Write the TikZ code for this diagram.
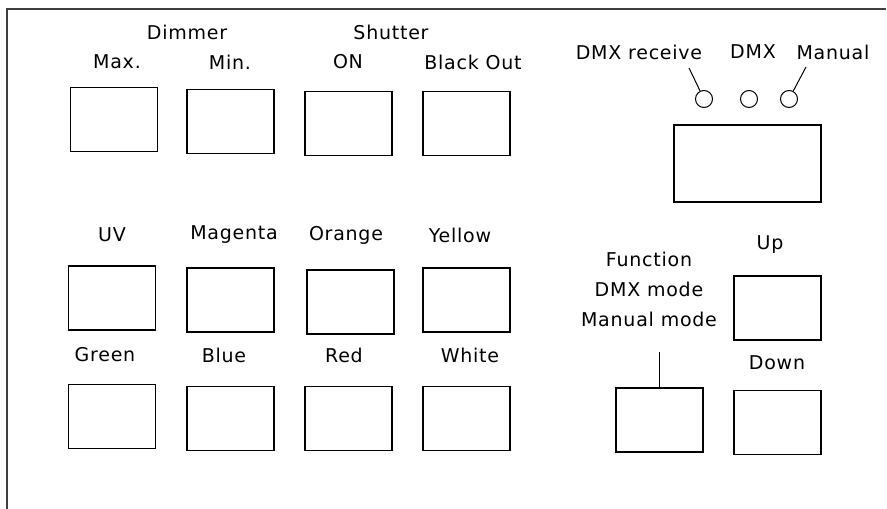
\documentclass[tikz,border=0pt]{standalone}
\usepackage{fontspec}
\setmainfont{DejaVu Sans}[LetterSpace=4]
\begin{document}
\begin{tikzpicture}[x=1pt,y=-1pt,
  btn/.style={draw=black,line width=1.6pt,minimum width=87pt,minimum height=64pt,inner sep=0pt},
  lbl/.style={inner sep=0pt,font=\fontsize{19}{22}\selectfont},
  led/.style={draw=black,line width=1pt,circle,minimum size=17pt,inner sep=0pt},
  frame/.style={draw=black!75,line width=2pt}]
\useasboundingbox (0,0) rectangle (887,509);
\draw[frame] (7,509) -- (7,9) -- (886,9);
% top row
\node[lbl] (ldim) at (187,32) {Dimmer};
\node[lbl] (lshu) at (391,32) {Shutter};
\node[lbl] (lmax) at (117,62) {Max.};
\node[lbl] (lmin) at (230,62) {Min.};
\node[lbl] (lon) at (348,62) {ON};
\node[lbl] (lbo) at (473,62) {Black Out};
\node[btn] (bmax) at (114,119.5) {};
\node[btn] (bmin) at (230.5,121.5) {};
\node[btn] (bon) at (348.5,123.5) {};
\node[btn] (bbo) at (466.5,123.5) {};
% middle row
\node[lbl] (luv) at (112,235) {UV};
\node[lbl] (lmag) at (234,235) {Magenta};
\node[lbl] (lora) at (346,235) {Orange};
\node[lbl] (lyel) at (460,235) {Yellow};
\node[btn] (buv) at (112,298) {};
\node[btn] (bmag) at (230.5,300) {};
\node[btn] (bora) at (350.5,302) {};
\node[btn] (byel) at (466.5,300) {};
% bottom row
\node[lbl] (lgre) at (105,355) {Green};
\node[lbl] (lblu) at (224,355) {Blue};
\node[lbl] (lred) at (344,355) {Red};
\node[lbl] (lwhi) at (470,355) {White};
\node[btn] (bgre) at (112,416.5) {};
\node[btn] (bblu) at (230.5,418.5) {};
\node[btn] (bred) at (348.5,418.5) {};
\node[btn] (bwhi) at (466.5,418.5) {};
% display and LEDs
\node[lbl] (lrec) at (639,52) {DMX receive};
\node[lbl] (ldmx) at (753,52) {DMX};
\node[lbl] (lman) at (833,52) {Manual};
\node[led] (led1) at (704,99) {};
\node[led] (led2) at (749,99) {};
\node[led] (led3) at (789,99) {};
\coordinate (crec) at (689,68);
\coordinate (cman) at (806,67);
\draw[line width=1pt] (crec) -- (led1);
\draw[line width=1pt] (cman) -- (led3);
\node[btn,minimum width=147pt,minimum height=77pt] (disp) at (747.5,163.5) {};
% function / up / down
\node[lbl,align=center,font=\fontsize{19}{30}\selectfont] (lfun) at (649,289) {Function\\DMX mode\\Manual mode};
\node[lbl] (lup) at (770,245) {Up};
\node[lbl] (ldown) at (777,363) {Down};
\node[btn] (bup) at (777.5,308) {};
\node[btn] (bfun) at (659.5,420) {};
\node[btn] (bdown) at (777.5,422.5) {};
\coordinate (cfun) at (659.5,352);
\draw[line width=1.5pt] (cfun) -- (bfun.north);
\end{tikzpicture}
\end{document}
